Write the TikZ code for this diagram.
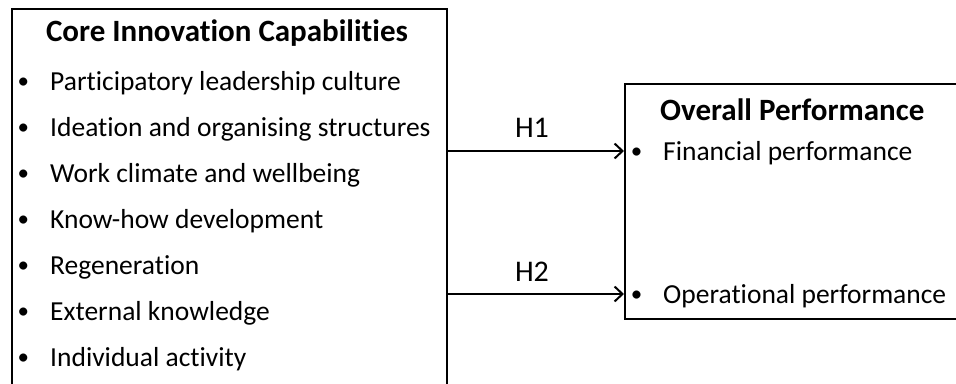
\documentclass[tikz,border=0pt]{standalone}
\usepackage{fontspec}
\setmainfont[Ligatures={NoCommon}]{Carlito}
\usetikzlibrary{arrows.meta}

\tikzset{
  frame/.style={draw=black, line width=2pt, rectangle, inner sep=0pt, anchor=north west},
  boxtitle/.style={font=\fontsize{31}{34}\selectfont\bfseries, inner sep=0pt},
  item/.style={font=\fontsize{27.5}{32}\selectfont, inner sep=0pt, anchor=base west},
  hyp/.style={font=\fontsize{30}{34}\selectfont, inner sep=0pt},
  link/.style={line width=2pt, -{Straight Barb[length=8pt,width=15pt,line width=2pt]}}
}
% round bullet set to the left of the item text
\newcommand{\bul}{\llap{\raisebox{1.5pt}{\fontsize{23}{23}\selectfont\textbullet}\hspace{21pt}}}

\begin{document}
\begin{tikzpicture}[x=1pt,y=-1pt]
  \useasboundingbox (0,0) rectangle (956,383);
  \clip (0,0) rectangle (956,383);

  % left box: innovation capabilities
  \node[frame, minimum width=435pt, minimum height=400pt] (L) at (11,8) {};
  \node[boxtitle] (Lt) at (227,33) {Core Innovation Capabilities};
  \node[item] (l1) at (50,90)  {\bul Participatory leadership culture};
  \node[item] (l2) at (50,136) {\bul Ideation and organising structures};
  \node[item] (l3) at (50,182) {\bul Work climate and wellbeing};
  \node[item] (l4) at (50,228) {\bul Know-how development};
  \node[item] (l5) at (50,274) {\bul Regeneration};
  \node[item] (l6) at (50,320) {\bul External knowledge};
  \node[item] (l7) at (50,366) {\bul Individual activity};

  % right box: performance
  \node[frame, minimum width=340pt, minimum height=235pt] (R) at (624,83) {};
  \node[boxtitle, anchor=base west] (Rt) at (660,120) {Overall Performance};
  \node[item] (r1) at (663,160) {\bul Financial performance};
  \node[item] (r2) at (663,303) {\bul Operational performance};

  % hypothesised links
  \coordinate (y1) at (0,151);
  \coordinate (y2) at (0,294);
  \draw[link] (L.east |- y1) -- (R.west |- y1);
  \draw[link] (L.east |- y2) -- (R.west |- y2);
  \node[hyp] (h1) at (532,128) {H1};
  \node[hyp] (h2) at (532,272) {H2};
\end{tikzpicture}
\end{document}
